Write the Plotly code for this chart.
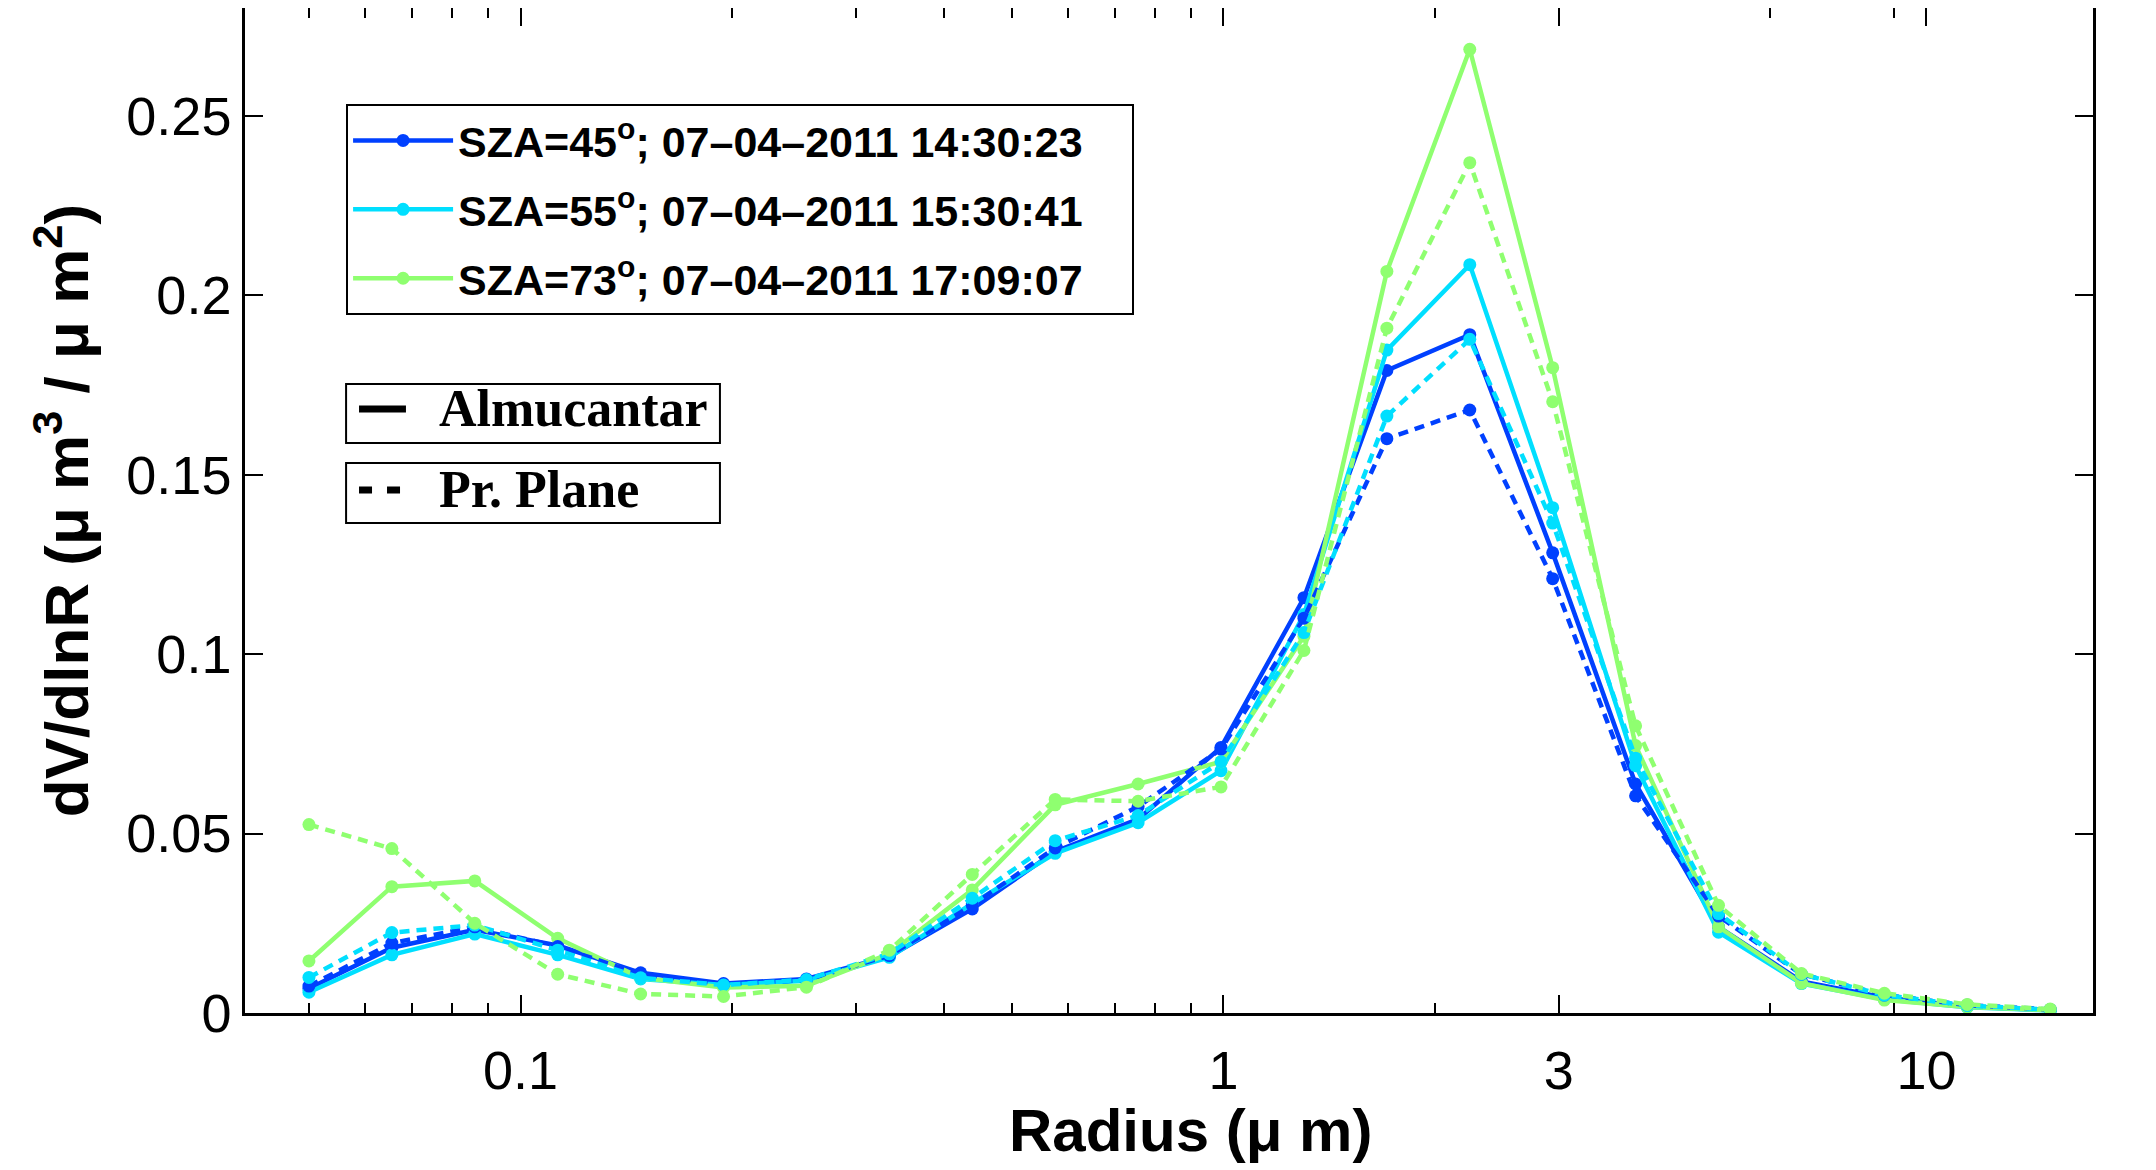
import plotly.graph_objects as go

# AERONET size-distribution radius bins (um)
radius = [0.05, 0.065604, 0.086077, 0.112939, 0.148184, 0.194429, 0.255105,
          0.334716, 0.439173, 0.576227, 0.756052, 0.991996, 1.301571, 1.707757,
          2.240702, 2.939966, 3.857452, 5.061260, 6.640745, 8.713145, 11.432287, 15.0]

# dV/dlnR values
alm45 = [0.0068, 0.0182, 0.0232, 0.0188, 0.0112, 0.0082, 0.0095, 0.0158, 0.0290, 0.0450, 0.0540,
         0.0740, 0.1157, 0.1790, 0.1890, 0.1282, 0.0638, 0.0240, 0.0088, 0.0043, 0.0018, 0.0008]
pp45 = [0.0075, 0.0195, 0.0240, 0.0185, 0.0108, 0.0080, 0.0092, 0.0160, 0.0300, 0.0460, 0.0575,
        0.0735, 0.1100, 0.1600, 0.1680, 0.1210, 0.0605, 0.0270, 0.0108, 0.0050, 0.0022, 0.0010]
alm55 = [0.0058, 0.0162, 0.0220, 0.0162, 0.0095, 0.0078, 0.0090, 0.0155, 0.0305, 0.0445, 0.0530,
         0.0675, 0.1110, 0.1847, 0.2085, 0.1408, 0.0689, 0.0225, 0.0082, 0.0038, 0.0016, 0.0007]
pp55 = [0.0099, 0.0224, 0.0245, 0.0175, 0.0098, 0.0078, 0.0093, 0.0165, 0.0320, 0.0480, 0.0550,
        0.0700, 0.1060, 0.1663, 0.1877, 0.1365, 0.0710, 0.0277, 0.0108, 0.0050, 0.0021, 0.0009]
alm73 = [0.0145, 0.0352, 0.0368, 0.0208, 0.0098, 0.0071, 0.0076, 0.0165, 0.0343, 0.0580, 0.0638,
         0.0700, 0.1050, 0.2066, 0.2685, 0.1798, 0.0745, 0.0240, 0.0083, 0.0036, 0.0017, 0.0008]
pp73 = [0.0525, 0.0458, 0.0250, 0.0108, 0.0053, 0.0046, 0.0072, 0.0175, 0.0386, 0.0595, 0.0590,
        0.0630, 0.1010, 0.1908, 0.2369, 0.1703, 0.0800, 0.0300, 0.0110, 0.0055, 0.0024, 0.0011]

labels = ["SZA=45<sup>o</sup>; 07\u201304\u20132011 14:30:23",
          "SZA=55<sup>o</sup>; 07\u201304\u20132011 15:30:41",
          "SZA=73<sup>o</sup>; 07\u201304\u20132011 17:09:07"]
colors = ["rgb(0,64,255)", "rgb(0,223,255)", "rgb(143,255,112)"]
style_names = ["Almucantar", "Pr. Plane"]

x_ticks = [0.1, 1, 3, 10]
x_ticktext = ["0.1", "1", "3", "10"]
x_minor = [0.05, 0.06, 0.07, 0.08, 0.09, 0.2, 0.3, 0.4, 0.5, 0.6, 0.7, 0.8, 0.9, 2, 6, 9]
y_ticks = [0, 0.05, 0.1, 0.15, 0.2, 0.25]
y_ticktext = ["0", "0.05", "0.1", "0.15", "0.2", "0.25"]

SANS = "Liberation Sans, Arial, sans-serif"
SERIF = "Liberation Serif, Times New Roman, serif"
LW = 4.5
MS = 13
PAD = "\u00a0\u00a0\u00a0\u2009"

fig = go.Figure()
alm = [alm45, alm55, alm73]
pp = [pp45, pp55, pp73]

for i in range(3):
    fig.add_trace(go.Scatter(
        x=radius, y=alm[i], mode="lines+markers", name="<b>" + labels[i] + "</b>" + PAD,
        line=dict(color=colors[i], width=LW),
        marker=dict(color=colors[i], size=MS),
        legendgroup="g%d" % i, showlegend=True))
for i in range(3):
    fig.add_trace(go.Scatter(
        x=radius, y=pp[i], mode="lines+markers", name=labels[i] + " PP",
        line=dict(color=colors[i], width=LW, dash="10px,7px"),
        marker=dict(color=colors[i], size=MS),
        showlegend=False))

axis_common = dict(
    showline=True, linecolor="black", linewidth=2.5, mirror="ticks",
    ticks="inside", ticklen=18, tickwidth=2, tickcolor="black",
    showgrid=False, zeroline=False,
    tickfont=dict(family=SANS, size=54, color="black"),
)

# line-style key (two boxed entries, positioned in plot-area fractions)
box_x = [0.0547, 0.2570]
box_y = [(0.5672, 0.6259), (0.4876, 0.5473)]
sample_x0 = 0.0617
sample_x1 = [0.0871, 0.0844]
sample_y = [0.601, 0.5204]
sample_dash = ["solid", "13px,15px"]
text_x = 0.1039

shapes = []
annotations = []
for k in range(2):
    shapes.append(dict(type="rect", xref="paper", yref="paper",
                       x0=box_x[0], x1=box_x[1], y0=box_y[k][0], y1=box_y[k][1],
                       line=dict(color="black", width=2), fillcolor="white", layer="above"))
    shapes.append(dict(type="line", xref="paper", yref="paper",
                       x0=sample_x0, x1=sample_x1[k], y0=sample_y[k], y1=sample_y[k],
                       line=dict(color="black", width=7, dash=sample_dash[k]), layer="above"))
    annotations.append(dict(xref="paper", yref="paper", x=text_x, y=sample_y[k],
                            xanchor="left", yanchor="middle", showarrow=False,
                            text="<b>" + style_names[k] + "</b>",
                            font=dict(family=SERIF, size=52, color="black")))

# x-axis label (placed slightly right of centre, as in the original)
annotations.append(dict(xref="paper", yref="paper", x=0.5118, y=-0.1174,
                        xanchor="center", yanchor="middle", showarrow=False,
                        text="<b>Radius (\u03bc m)</b>",
                        font=dict(family=SANS, size=60, color="black")))

ytitle = "<b>dV/dlnR (\u03bc m<sup>3</sup> / \u03bc m<sup>2</sup>)</b>"

fig.update_layout(
    width=2148, height=1162,
    margin=dict(l=237, r=63, t=0, b=157, autoexpand=False),
    paper_bgcolor="white", plot_bgcolor="white",
    font=dict(family=SANS, color="black"),
    xaxis=dict(
        type="log", range=[-1.392, 1.237],
        tickmode="array", tickvals=x_ticks, ticktext=x_ticktext,
        minor=dict(tickmode="array", tickvals=x_minor, ticks="inside", ticklen=10,
                   tickwidth=1.5, tickcolor="black", showgrid=False),
        ticklabelstandoff=8,
        **axis_common),
    yaxis=dict(
        range=[0, 0.28], tickmode="array", tickvals=y_ticks, ticktext=y_ticktext,
        ticklabelstandoff=0,
        title=dict(text=ytitle, standoff=18,
                   font=dict(family=SANS, size=62, color="black")),
        **axis_common),
    legend=dict(x=0.0547, y=0.9045, xanchor="left", yanchor="top",
                bgcolor="white", bordercolor="black", borderwidth=2,
                font=dict(family=SANS, size=43, color="black"),
                itemwidth=100, tracegroupgap=10),
    shapes=shapes,
    annotations=annotations,
)

fig.write_html("out.html")
